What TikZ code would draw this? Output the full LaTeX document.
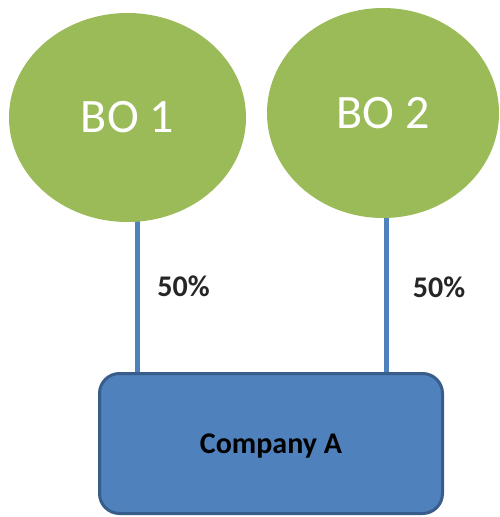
\documentclass[tikz,border=0pt]{standalone}
\usepackage{fontspec}
\setmainfont{Carlito}
\usetikzlibrary{shapes.geometric,backgrounds}

\definecolor{owngreen}{HTML}{9BBB59}
\definecolor{boxblue}{HTML}{4F81BD}
\definecolor{boxedge}{HTML}{385D8A}

\tikzset{
  owner/.style={ellipse, fill=owngreen, draw=none, inner sep=0pt,
    text=white, font=\fontsize{48}{58}\selectfont},
  company/.style={rounded corners=20pt, fill=boxblue, draw=boxedge,
    line width=3pt, minimum width=343pt, minimum height=140pt,
    text depth=0pt, font=\bfseries\fontsize{30}{36}\selectfont, text=black},
  share/.style={font=\bfseries\fontsize{30}{36}\selectfont, text=black!85},
  link/.style={draw=boxblue, line width=5pt}
}

\begin{document}
\begin{tikzpicture}[x=1pt, y=-1pt]
  \useasboundingbox (0,0) rectangle (500,517);

  % the two beneficial owners
  \node[owner, minimum width=237pt, minimum height=209pt] (bo1) at (127.5,117.5) {BO 1};
  \node[owner, minimum width=232pt, minimum height=210pt] (bo2) at (383,113) {BO 2};

  % the company they own
  \node[company] (comp) at (271,443.5) {Company A};

  % ownership shares
  \node[share] (s1) at (183.5,286.5) {50\%};
  \node[share] (s2) at (439,287) {50\%};

  % ownership links, drawn behind the shapes on a white ground
  \coordinate (t1) at (137,373);
  \coordinate (t2) at (386,373);
  \begin{scope}[on background layer]
    \fill[white] (0,0) rectangle (500,517);
    \draw[link] (t1) -- (t1 |- bo1.center);
    \draw[link] (t2) -- (t2 |- bo2.center);
  \end{scope}
\end{tikzpicture}
\end{document}
